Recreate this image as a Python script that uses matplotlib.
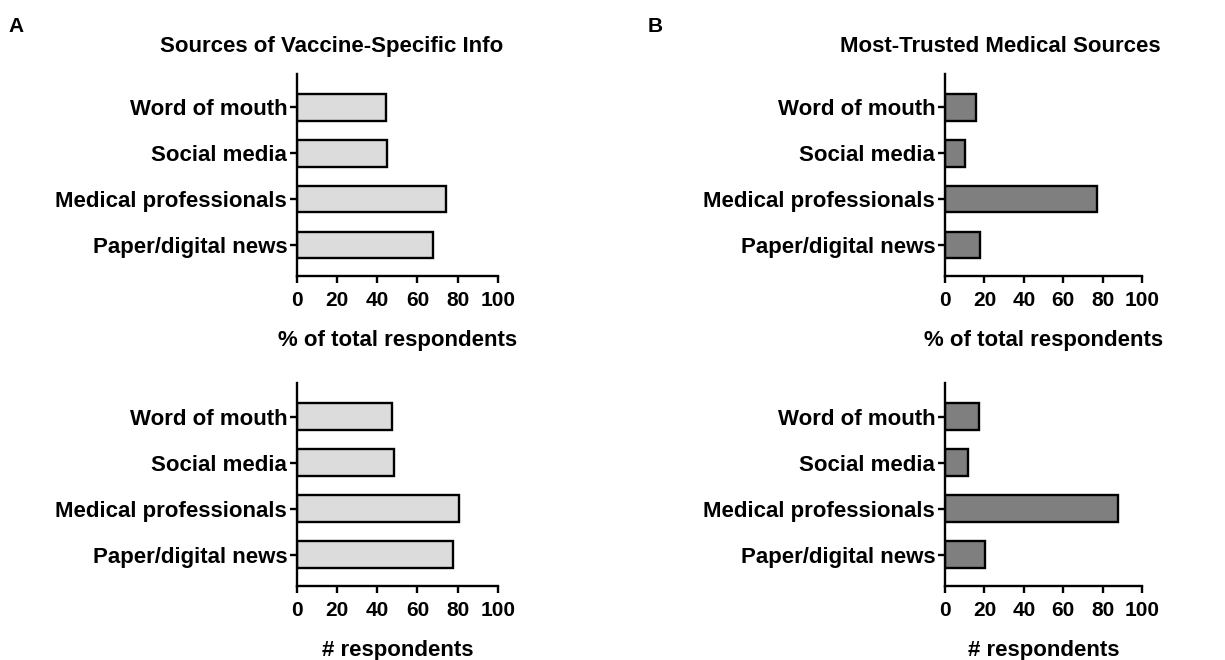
"""
Vaccine info source survey: horizontal bar panels (A: all sources, B: most trusted).
"""
import matplotlib
matplotlib.use('Agg')
import matplotlib.pyplot as plt

plt.rcParams['font.family'] = ['Liberation Sans', 'DejaVu Sans']
plt.rcParams['font.weight'] = 'bold'

categories = ['Word of mouth', 'Social media', 'Medical professionals', 'Paper/digital news']

# panel A - sources of vaccine-specific info
a_percent = [44.5, 45, 74, 67.5]
a_count = [47.5, 48.5, 80.5, 77.5]
# panel B - most-trusted medical sources
b_percent = [15.5, 10, 77, 18]
b_count = [17.5, 11.5, 87.5, 20.5]

x_ticks = [0, 20, 40, 60, 80, 100]

light = '#dcdcdc'
dark = '#7f7f7f'


def _bar_panel(ax, values, color, xlabel):
    """Draw one horizontal bar panel in the GraphPad-like style."""
    ypos = list(range(len(categories)))
    ax.barh(ypos, values, height=0.58, color=color, edgecolor='black', linewidth=1.7)
    ax.set_yticks(ypos)
    ax.set_yticklabels(categories, fontsize=16, fontweight='bold')
    ax.set_ylim(3.68, -0.73)
    ax.set_xlim(0, 100)
    ax.set_xticks(x_ticks)
    ax.set_xticklabels([str(t) for t in x_ticks], fontsize=15, fontweight='bold')
    ax.set_xlabel(xlabel, fontsize=16, fontweight='bold', labelpad=14)
    for side in ['top', 'right']:
        ax.spines[side].set_visible(False)
    for side in ['left', 'bottom']:
        ax.spines[side].set_linewidth(1.7)
    ax.tick_params(axis='y', direction='out', length=5, width=1.7, pad=2)
    ax.tick_params(axis='x', direction='out', length=5, width=1.7, pad=6)


fig = plt.figure(figsize=(12.25, 6.6), dpi=100)

ax_a1 = fig.add_axes([0.2424, 0.5818, 0.164, 0.306])
ax_a2 = fig.add_axes([0.2424, 0.1121, 0.164, 0.3076])
ax_b1 = fig.add_axes([0.7714, 0.5818, 0.161, 0.306])
ax_b2 = fig.add_axes([0.7714, 0.1121, 0.161, 0.3076])

_bar_panel(ax_a1, a_percent, light, '% of total respondents')
_bar_panel(ax_a2, a_count, light, '# respondents')
_bar_panel(ax_b1, b_percent, dark, '% of total respondents')
_bar_panel(ax_b2, b_count, dark, '# respondents')

fig.text(332 / 1225, 0.930, 'Sources of Vaccine-Specific Info', ha='center', va='center',
         fontsize=16, fontweight='bold')
fig.text(1000 / 1225, 0.930, 'Most-Trusted Medical Sources', ha='center', va='center',
         fontsize=16, fontweight='bold')
fig.text(0.007, 0.960, 'A', ha='left', va='center', fontsize=15, fontweight='bold')
fig.text(0.529, 0.960, 'B', ha='left', va='center', fontsize=15, fontweight='bold')

plt.savefig('out.png', dpi=100)
plt.close()
